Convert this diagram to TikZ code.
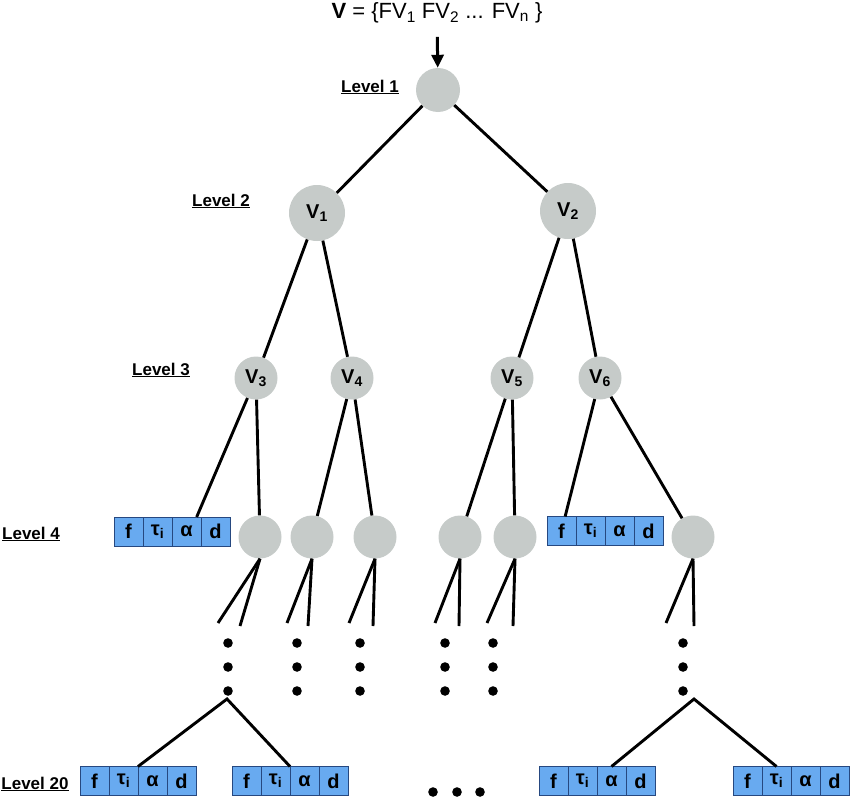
\documentclass[tikz,border=0pt]{standalone}
\usepackage{fontspec}
\setmainfont{Liberation Sans}
\usetikzlibrary{positioning,arrows.meta}
\definecolor{nodegray}{RGB}{198,203,201}
\definecolor{cellblue}{RGB}{104,170,240}
\definecolor{celledge}{RGB}{38,72,128}

\newcommand{\featbox}[2]{%
  \node[cell] (#1f) at (#2) {f};
  \node[cell, right=0pt of #1f] (#1t) {τ\textsubscript{i}};
  \node[cell, right=0pt of #1t] (#1a) {α};
  \node[cell, right=0pt of #1a] (#1d) {d};
}

\begin{document}
\begin{tikzpicture}[
    x=1pt, y=-1pt,
    branch/.style={black, line width=2.9pt},
    arr/.style={black, line width=3pt, -{Triangle[length=13pt,width=12pt]}},
    vert/.style={circle, fill=nodegray, inner sep=0pt,
                 font=\fontsize{20}{24}\selectfont\bfseries},
    cell/.style={draw=celledge, fill=cellblue, line width=1pt,
                 minimum width=29pt, minimum height=29pt,
                 inner sep=0pt, outer sep=0pt,
                 font=\fontsize{20}{24}\selectfont\bfseries},
    lvl/.style={font=\fontsize{17}{20}\selectfont\bfseries},
    heading/.style={font=\fontsize{22}{26}\selectfont}
]
    \useasboundingbox (0,0) rectangle (850,800);

    \node[heading] (title) at (437,13) {\textbf{V} = \{FV\textsubscript{1} FV\textsubscript{2} ... FV\textsubscript{n} \}};

    \node[lvl] (lv1) at (370,87) {\underline{Level 1}};
    \node[lvl] (lv2) at (221,201) {\underline{Level 2}};
    \node[lvl] (lv3) at (161,370) {\underline{Level 3}};
    \node[lvl] (lv4) at (31,534) {\underline{Level 4}};
    \node[lvl] (lv20) at (35,784) {\underline{Level 20}};

    \node[vert, minimum size=44pt] (root) at (438,90) {};
    \node[vert, minimum size=56pt] (v1) at (317,213) {V\textsubscript{1}};
    \node[vert, minimum size=56pt] (v2) at (568,211) {V\textsubscript{2}};
    \node[vert, minimum size=43pt] (v3) at (256,378) {V\textsubscript{3}};
    \node[vert, minimum size=43pt] (v4) at (352,378) {V\textsubscript{4}};
    \node[vert, minimum size=43pt] (v5) at (512,378) {V\textsubscript{5}};
    \node[vert, minimum size=43pt] (v6) at (600,378) {V\textsubscript{6}};

    \node[vert, minimum size=43pt] (c1) at (260,537) {};
    \node[vert, minimum size=43pt] (c2) at (312,537) {};
    \node[vert, minimum size=43pt] (c3) at (375,537) {};
    \node[vert, minimum size=43pt] (c4) at (460,537) {};
    \node[vert, minimum size=43pt] (c5) at (515,537) {};
    \node[vert, minimum size=43pt] (c6) at (693,537) {};

    \featbox{b4l}{128.5,531.5}
    \featbox{b4r}{561.5,531}
    \featbox{b20a}{94.5,781}
    \featbox{b20b}{246.5,781}
    \featbox{b20c}{553.5,781}
    \featbox{b20d}{747.5,781}

    \draw[arr, shorten <=10pt] (title) -- (root);
    \draw[branch] (root) -- (v1);
    \draw[branch] (root) -- (v2);
    \draw[branch] (v1) -- (v3);
    \draw[branch] (v1) -- (v4);
    \draw[branch] (v2) -- (v5);
    \draw[branch] (v2) -- (v6);
    \draw[branch] (v3) -- (b4la.55);
    \draw[branch] (v3) -- (c1);
    \draw[branch] (v4) -- (c2);
    \draw[branch] (v4) -- (c3);
    \draw[branch] (v5) -- (c4);
    \draw[branch] (v5) -- (c5);
    \draw[branch] (v6) -- (b4rf);
    \draw[branch] (v6) -- (c6);

    \foreach \c/\xl/\xr in {c1/218/240, c2/287/308, c3/349/373, c4/435/459, c5/487/513, c6/666/694} {
        \coordinate (\c-l) at (\xl,623);
        \coordinate (\c-r) at (\xr,626);
        \draw[branch] (\c.south) -- (\c-l);
        \draw[branch] (\c.south) -- (\c-r);
    }

    \foreach \x in {228,297,360,445,493,683}
        \foreach \y in {643,667,691}
            \fill (\x,\y) circle (4.8);
    \foreach \x in {433,457,480}
        \fill (\x,792) circle (4.8);

    \coordinate (lsplit) at (227,699);
    \coordinate (rsplit) at (694,699);
    \draw[branch] (b20at.north east) -- (lsplit) -- (b20bt.north east);
    \draw[branch] (b20ca.north) -- (rsplit) -- (b20dt.north);
\end{tikzpicture}
\end{document}
